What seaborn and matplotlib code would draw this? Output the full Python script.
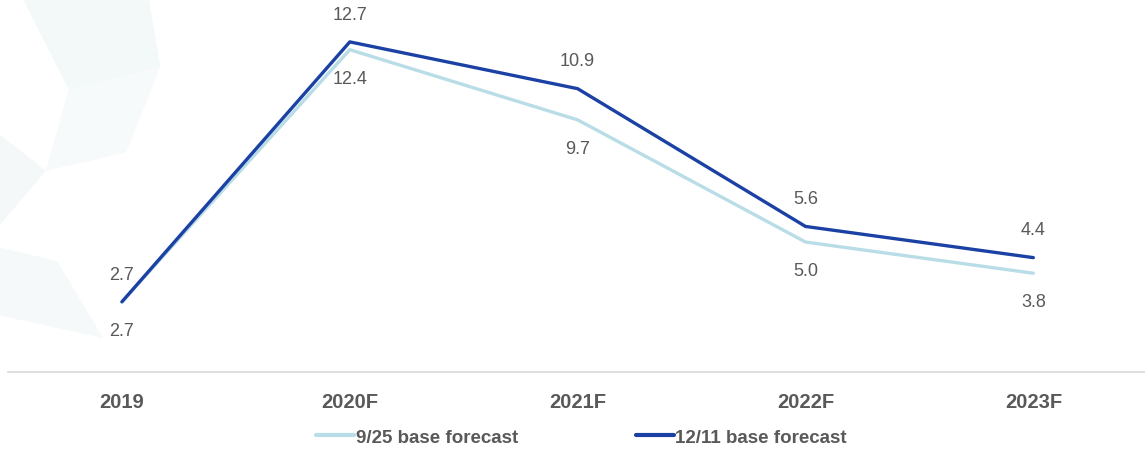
import matplotlib
matplotlib.use("Agg")
import matplotlib.pyplot as plt
from matplotlib.patches import Polygon
import pandas as pd
import seaborn as sns

# Forecast values by year
years = ["2019", "2020F", "2021F", "2022F", "2023F"]
sep_forecast = [2.7, 12.4, 9.7, 5.0, 3.8]
dec_forecast = [2.7, 12.7, 10.9, 5.6, 4.4]
series_names = ["9/25 base forecast", "12/11 base forecast"]

light_blue = "#b9dde6"
dark_blue = "#1a41a3"
text_gray = "#595959"

df = pd.DataFrame({
    "year": years * 2,
    "value": sep_forecast + dec_forecast,
    "series": [series_names[0]] * len(years) + [series_names[1]] * len(years),
})

sns.set_theme(style="white")
plt.rcParams["font.family"] = ["Liberation Sans", "DejaVu Sans"]

fig = plt.figure(figsize=(11.45, 4.52), dpi=100)
fig.patch.set_facecolor("white")

# very faint decorative star watermark on the left
wm = [
    ([(0.02, 1.0), (0.13, 1.0), (0.14, 0.85), (0.06, 0.80)], "#f3f8f8"),
    ([(0.14, 0.85), (0.06, 0.80), (0.04, 0.62), (0.11, 0.66)], "#f7fafa"),
    ([(0.0, 0.70), (0.04, 0.62), (0.0, 0.50)], "#f4f8f9"),
    ([(0.0, 0.45), (0.05, 0.42), (0.09, 0.25), (0.0, 0.30)], "#f6f9f9"),
]
for pts, col in wm:
    fig.patches.append(Polygon(pts, closed=True, transform=fig.transFigure,
                               facecolor=col, edgecolor="none", zorder=0))

ax = fig.add_axes([8 / 1145, 1 - 373 / 452, 1 - 8 / 1145, 373 / 452])
ax.set_facecolor("none")

sns.lineplot(data=df, x="year", y="value", hue="series",
             palette=[light_blue, dark_blue], linewidth=2.4,
             sort=False, ax=ax, legend=False)

ax.set_xlim(-0.5, 4.49)
ax.set_ylim(0, 14.35)
ax.set_yticks([])
ax.set_xlabel("")
ax.set_ylabel("")
for side in ["top", "right", "left"]:
    ax.spines[side].set_visible(False)
ax.spines["bottom"].set_color("#d9d9d9")
ax.spines["bottom"].set_linewidth(1.2)

ax.tick_params(axis="x", length=0, pad=14.5)
for lbl in ax.get_xticklabels():
    lbl.set_fontweight("bold")
    lbl.set_fontsize(14.5)
    lbl.set_color(text_gray)

# value labels: December series above, September series below
for i, v in enumerate(dec_forecast):
    ax.annotate(f"{v:.1f}", (i, v), xytext=(0, 20), textcoords="offset points",
                ha="center", va="center", fontsize=13, color=text_gray)
for i, v in enumerate(sep_forecast):
    ax.annotate(f"{v:.1f}", (i, v), xytext=(0, -20.5), textcoords="offset points",
                ha="center", va="center", fontsize=13, color=text_gray)

handles = [plt.Line2D([], [], color=light_blue, linewidth=3),
           plt.Line2D([], [], color=dark_blue, linewidth=3)]
leg = fig.legend(handles, series_names, loc="center", bbox_to_anchor=(0.508, 1 - 438 / 452),
                 ncol=2, frameon=False, handlelength=2.0, handletextpad=0.1,
                 columnspacing=6.3, prop={"weight": "bold", "size": 13.5})
for t in leg.get_texts():
    t.set_color(text_gray)

fig.savefig("out.png", dpi=100, facecolor="white")
